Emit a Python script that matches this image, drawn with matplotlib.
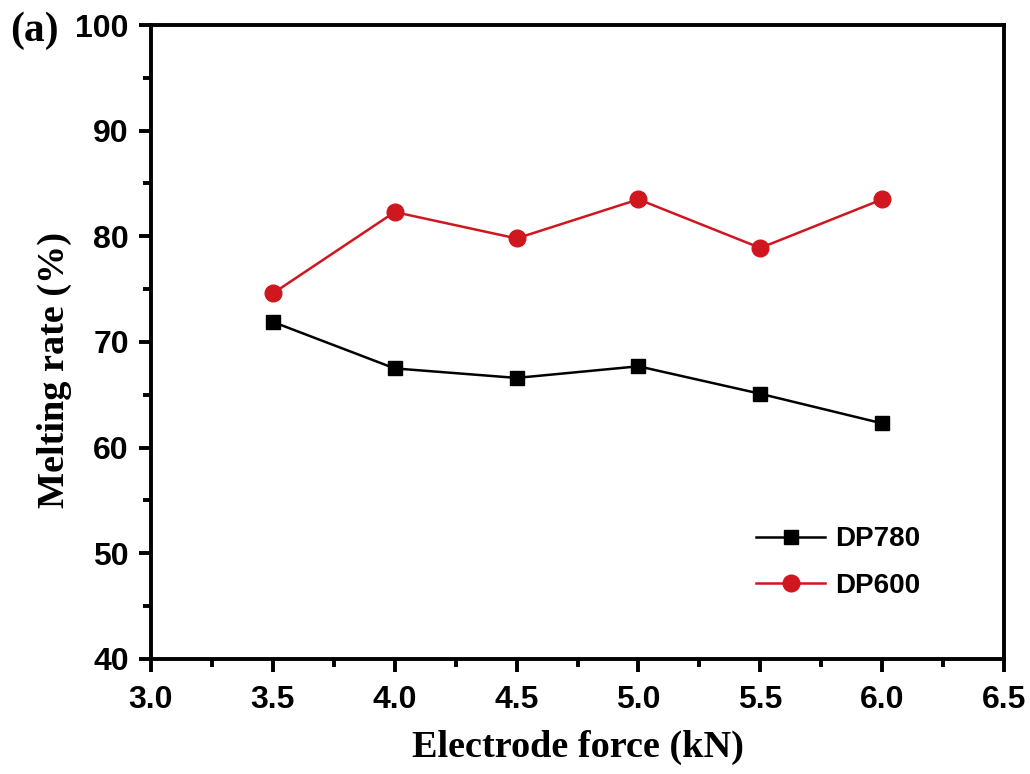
import numpy as np
import matplotlib.pyplot as plt
from matplotlib.ticker import MultipleLocator

force = [3.5, 4.0, 4.5, 5.0, 5.5, 6.0]
dp780 = [71.9, 67.5, 66.6, 67.7, 65.1, 62.3]
dp600 = [74.6, 82.3, 79.8, 83.5, 78.9, 83.5]

tick_font = {"family": "Liberation Sans", "weight": "bold", "size": 23}
label_font = {"family": "Liberation Serif", "weight": "bold", "size": 27.5}

fig = plt.figure(figsize=(10.3, 7.74), dpi=100)
ax = fig.add_axes([0.1466, 0.1486, 0.8282, 0.8191])

ax.plot(force, dp780, color="black", lw=1.8, marker="s", ms=10,
        label="DP780")
ax.plot(force, dp600, color="#d0161e", lw=1.8, marker="o", ms=12,
        label="DP600")

ax.set_xlim(3.0, 6.5)
ax.set_ylim(40, 100)
ax.xaxis.set_major_locator(MultipleLocator(0.5))
ax.xaxis.set_minor_locator(MultipleLocator(0.25))
ax.yaxis.set_major_locator(MultipleLocator(10))
ax.yaxis.set_minor_locator(MultipleLocator(5))
ax.xaxis.set_major_formatter(lambda v, p: f"{v:.1f}")

for s in ax.spines.values():
    s.set_linewidth(2.8)
ax.tick_params(which="major", direction="out", length=9, width=2.8)
ax.tick_params(which="minor", direction="out", length=6, width=2.8)
ax.tick_params(axis="x", which="major", pad=10)
ax.tick_params(axis="y", which="major", pad=7)
for t in ax.get_xticklabels() + ax.get_yticklabels():
    t.set_fontproperties(tick_font)

ax.set_xlabel("Electrode force (kN)", fontdict=label_font)
ax.set_ylabel("Melting rate (%)", fontdict=label_font)
ax.xaxis.set_label_coords(0.5, -0.112)
ax.yaxis.set_label_coords(-0.093, 0.456)

leg = ax.legend(loc="lower right", bbox_to_anchor=(0.931, 0.055), frameon=False,
                handlelength=2.5, handletextpad=0.35, labelspacing=0.75,
                prop={"family": "Liberation Sans", "weight": "bold", "size": 20})

fig.text(0.01, 0.960, "(a)", fontdict={"family": "Liberation Serif",
                                        "weight": "bold", "size": 30},
         va="center", ha="left")

fig.savefig("out.png", dpi=100)
